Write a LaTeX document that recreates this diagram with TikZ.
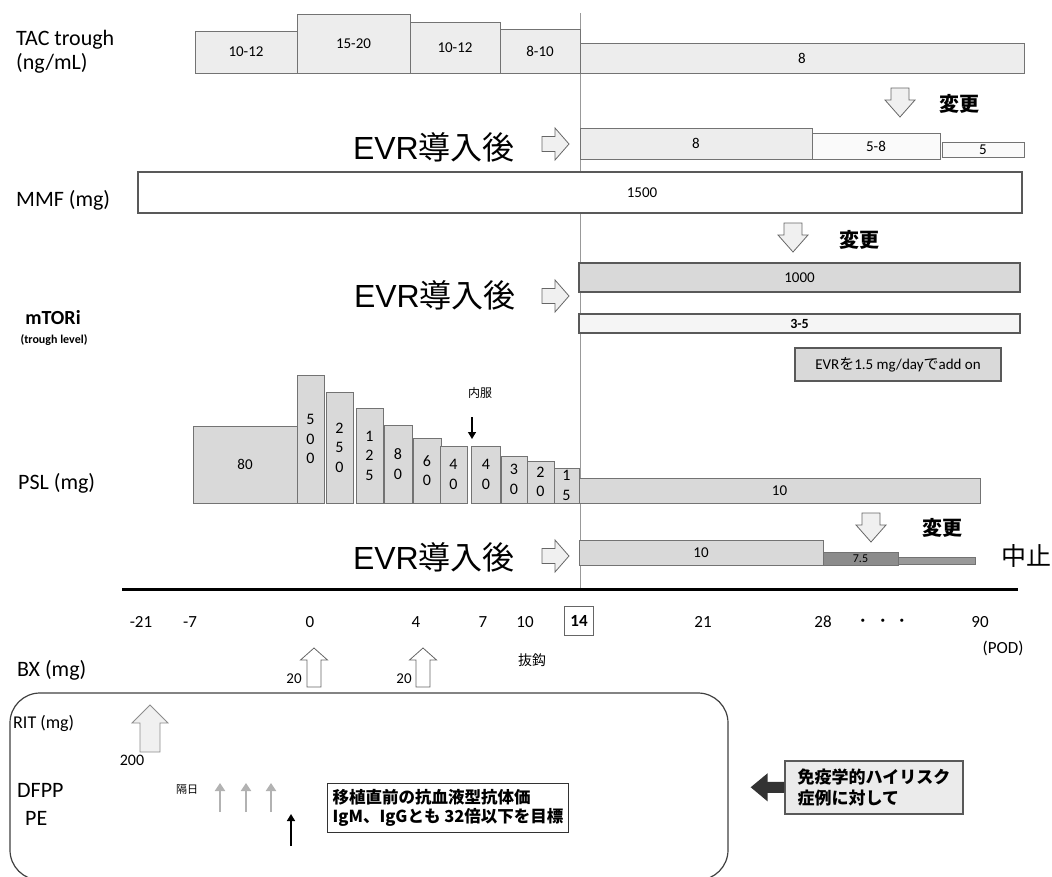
\documentclass[tikz,border=0pt]{standalone}
\usepackage{fontspec}
\setmainfont{Carlito}
\newfontfamily\cjk{Noto Sans CJK JP}
\newfontfamily\arialfont{Liberation Sans}
\usetikzlibrary{arrows.meta}

\tikzset{
  rowlab/.style={anchor=west, inner sep=0pt, font=\fontsize{22}{24}\selectfont},
  bar/.style={draw=black!55, line width=0.8pt, inner sep=0pt, outer sep=0pt, font=\fontsize{15}{17}\selectfont},
  tacbar/.style={bar, fill=black!7},
  whitebar/.style={bar, fill=white},
  pslbar/.style={bar, fill=black!15, align=center, font=\fontsize{16}{19.5}\selectfont},
  evrlab/.style={anchor=east, inner sep=0pt, font=\fontsize{32}{34}\selectfont},
  change/.style={inner sep=0pt, font=\cjk\bfseries\fontsize{20}{22}\selectfont},
  tick/.style={inner sep=0pt, font=\fontsize{17}{19}\selectfont},
  small/.style={inner sep=0pt, font=\cjk\fontsize{11}{13}\selectfont},
  hollow/.style={draw=black!60, fill=black!6, line width=0.8pt, line join=miter},
  pics/downarr/.style={code={\draw[hollow] (-9,0) -- (9,0) -- (9,12) -- (15,12) -- (0,29) -- (-15,12) -- (-9,12) -- cycle;}},
  pics/rightarr/.style={code={\draw[hollow] (0,-7.5) -- (13,-7.5) -- (13,-16) -- (27,0) -- (13,16) -- (13,7.5) -- (0,7.5) -- cycle;}},
  pics/bxarr/.style={code={\draw[hollow, fill=white] (0,0) -- (13.5,12) -- (7,12) -- (7,39) -- (-7,39) -- (-7,12) -- (-13.5,12) -- cycle;}},
  pics/ritarr/.style={code={\draw[hollow, draw=black!45] (0,0) -- (18,18) -- (10,18) -- (10,47) -- (-10,47) -- (-10,18) -- (-18,18) -- cycle;}},
  grayarr/.style={draw=black!30, line width=2.5pt, -{Triangle[length=8pt, width=10pt]}},
  blackarr/.style={draw=black, line width=1.6pt, -{Triangle[length=7pt, width=8pt]}},
  bigarr/.style={draw=black!80, line width=11pt, -{Triangle[length=17pt, width=27pt]}, shorten >=22pt},
}

\begin{document}
\begin{tikzpicture}[x=1pt, y=-1pt]
\useasboundingbox (0,0) rectangle (1052,876);
\clip (0,0) rectangle (1052,876);

% POD 14 line and time axis
\coordinate (vtop) at (580,13);
\coordinate (vbot) at (580,589);
\draw[black!40, line width=1pt] (vtop) -- (vbot);
\coordinate (axl) at (122,589);
\coordinate (axr) at (1018,589);
\draw[line width=3pt] (axl) -- (axr);

% row labels
\node at (16,40) (taclab)[rowlab]{TAC trough};
\node at (16,63) (tacunit)[rowlab]{(ng/mL)};
\node at (16,200) (mmflab)[rowlab]{MMF (mg)};
\node at (53,318) (mtorlab)[inner sep=0pt, font=\bfseries\fontsize{20}{22}\selectfont]{mTORi};
\node at (54,340) (mtorsub)[inner sep=0pt, font=\bfseries\fontsize{12}{14}\selectfont]{(trough level)};
\node at (18,483) (psllab)[rowlab]{PSL (mg)};
\node at (17,670) (bxlab)[rowlab]{BX (mg)};

% TAC
\node at (246,52) (tac1)[tacbar, minimum width=102pt, minimum height=42pt]{10-12};
\node at (353.5,43.5) (tac2)[tacbar, minimum width=113pt, minimum height=59pt]{15-20};
\node at (455,47.5) (tac3)[tacbar, minimum width=90pt, minimum height=51pt]{10-12};
\node at (540,51) (tac4)[tacbar, minimum width=80pt, minimum height=44pt]{8-10};
\node at (802,58) (tac5)[tacbar, minimum width=444pt, minimum height=30pt]{8};
\pic at (900,88) {downarr};
\node at (959,104) (chg1)[change]{変更};
\node at (515,147) (evr1)[evrlab]{{\arialfont EVR}{\cjk 導入後}};
\pic at (542,144) {rightarr};
\node at (696,143.5) (tacn1)[tacbar, minimum width=232pt, minimum height=31pt]{8};
\node at (876,146) (tacn2)[whitebar, fill=black!2, minimum width=128pt, minimum height=26pt]{5-8};
\node at (983,149.5) (tacn3)[whitebar, fill=black!2, minimum width=82pt, minimum height=15pt]{5};

% MMF
\node at (580,192.5) (mmf)[whitebar, line width=1.2pt, draw=black!65, minimum width=884pt, minimum height=41pt]{};
\node at (642,193) (mmfval)[inner sep=0pt, font=\fontsize{15}{17}\selectfont]{1500};
\pic at (793,223) {downarr};
\node at (859,240) (chg2)[change]{変更};
\node at (516,295) (evr2)[evrlab]{{\arialfont EVR}{\cjk 導入後}};
\pic at (542,296) {rightarr};
\node at (799.5,277.5) (mmfn)[bar, fill=black!15, draw=black!65, line width=1.5pt, minimum width=441pt, minimum height=29pt]{1000};

% mTORi
\node at (799.5,323.5) (mtor)[bar, fill=black!4, draw=black!65, line width=1.2pt, minimum width=441pt, minimum height=19pt, font=\bfseries\fontsize{14}{16}\selectfont]{3-5};
\node at (898,364.5) (evradd)[bar, fill=black!15, draw=black!65, line width=1.2pt, minimum width=206pt, minimum height=33pt]{EVR{\cjk を}1.5 mg/day{\cjk で}add on};

% PSL
\node at (245,464.5) (p80)[pslbar, minimum width=104pt, minimum height=77pt, font=\fontsize{15}{17}\selectfont]{80};
\node at (310.5,439) (p500)[pslbar, minimum width=27pt, minimum height=128pt]{5\\0\\0};
\node at (339.5,447.5) (p250)[pslbar, minimum width=27pt, minimum height=111pt]{2\\5\\0};
\node at (369.5,455.5) (p125)[pslbar, minimum width=27pt, minimum height=95pt]{1\\2\\5};
\node at (398,464) (p80b)[pslbar, minimum width=28pt, minimum height=78pt]{8\\0};
\node at (427,470.5) (p60)[pslbar, minimum width=28pt, minimum height=65pt]{6\\0};
\node at (453.5,474.5) (p40)[pslbar, minimum width=27pt, minimum height=57pt]{4\\0};
\node at (486,474.5) (p40b)[pslbar, minimum width=29pt, minimum height=57pt]{4\\0};
\node at (514,479.5) (p30)[pslbar, minimum width=26pt, minimum height=47pt]{3\\0};
\node at (540.5,482) (p20)[pslbar, minimum width=27pt, minimum height=42pt]{2\\0};
\node at (566.5,485.5) (p15)[pslbar, minimum width=25pt, minimum height=35pt]{1\\5};
\node at (779.5,490.5) (p10)[pslbar, minimum width=401pt, minimum height=25pt, font=\fontsize{15}{17}\selectfont]{10};
\node at (480,393) (oral)[small, font=\cjk\fontsize{12}{14}\selectfont]{内服};
\coordinate (oraltop) at (472,417);
\coordinate (oralbot) at (472,439);
\draw[blackarr, line width=1.4pt] (oraltop) -- (oralbot);
\pic at (871,513) {downarr};
\node at (942,528) (chg3)[change]{変更};
\node at (515,557) (evr3)[evrlab]{{\arialfont EVR}{\cjk 導入後}};
\pic at (542,556) {rightarr};
\node at (701,552.5) (psn1)[pslbar, minimum width=244pt, minimum height=25pt, font=\fontsize{15}{17}\selectfont]{10};
\node at (860.5,558.5) (psn2)[bar, fill=black!45, minimum width=75pt, minimum height=13pt, font=\fontsize{12}{13}\selectfont]{7.5};
\node at (936.5,560.5) (psn3)[bar, fill=black!40, minimum width=77pt, minimum height=7pt]{};
\node at (1026,556) (stop)[inner sep=0pt, font=\cjk\fontsize{25}{27}\selectfont]{中止};

% days
\foreach \d/\x in {-21/141,-7/190,0/310,4/416,7/483,10/525,21/703,28/823,90/980}
  \node at (\x,622) (t\d)[tick]{\d};
\node at (579,620.5) (t14)[tick, draw=black!60, line width=0.8pt, minimum width=29pt, minimum height=29pt, font=\bfseries\fontsize{17}{19}\selectfont]{14};
\foreach \x in {863,883,902}
  \node at (\x,622) (dot\x)[tick, font=\bfseries\fontsize{17}{19}\selectfont]{·};
\node at (1003,648) (pod)[tick]{(POD)};

% BX
\pic at (314,648) {bxarr};
\pic at (423,648) {bxarr};
\node at (294,679) (bx0)[tick, font=\fontsize{15}{17}\selectfont]{20};
\node at (404,679) (bx4)[tick, font=\fontsize{15}{17}\selectfont]{20};
\node at (532,660) (stitch)[small, font=\cjk\fontsize{14}{16}\selectfont]{抜鈎};

% desensitization
\node at (369,786.5) (irbox)[draw=black!75, line width=1.2pt, rounded corners=30pt, minimum width=718pt, minimum height=187pt]{};
\node at (13,723) (ritlab)[rowlab, font=\fontsize{18}{20}\selectfont]{RIT (mg)};
\node at (17,790) (dfpplab)[rowlab]{DFPP};
\node at (25,818) (pelab)[rowlab]{PE};
\pic at (150,705) {ritarr};
\node at (132,760) (rit200)[tick, font=\fontsize{16}{18}\selectfont]{200};
\node at (187,790) (altday)[small]{隔日};
\foreach \x in {220,246,271}{
  \coordinate (gb\x) at (\x,812);
  \coordinate (gt\x) at (\x,783);
  \draw[grayarr] (gb\x) -- (gt\x);
}
\coordinate (peb) at (291,846);
\coordinate (pet) at (291,814);
\draw[blackarr] (peb) -- (pet);
\node at (448,807.5) (target)[draw=black!80, line width=1pt, fill=white, align=left, inner sep=5pt, minimum width=218pt, minimum height=49pt, font=\cjk\bfseries\fontsize{16.5}{19}\selectfont]{移植直前の抗血液型抗体価\\IgM、IgGとも 32倍以下を目標};
\node at (874,787.5) (hirisk)[draw=black!65, line width=1.5pt, fill=black!8, align=left, inner sep=6pt, minimum width=178pt, minimum height=53pt, font=\cjk\bfseries\fontsize{17}{21}\selectfont]{免疫学的ハイリスク\\症例に対して};
\draw[bigarr] (hirisk) -- (irbox);
\end{tikzpicture}
\end{document}
